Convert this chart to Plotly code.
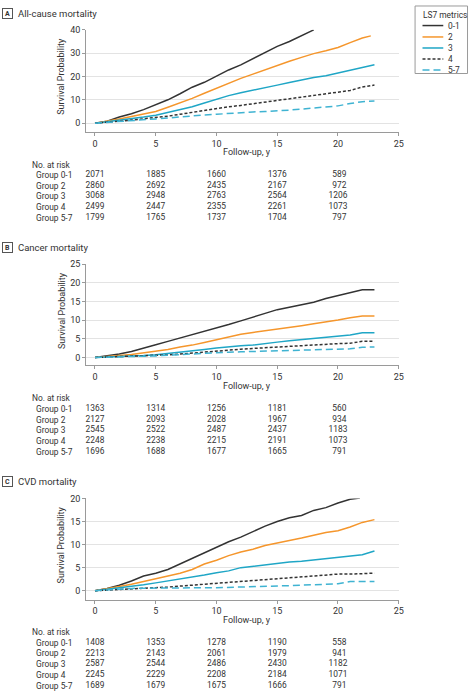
import plotly.graph_objects as go

W, H = 474, 692
FONT = "Roboto, Liberation Sans, sans-serif"
TXT = "#333333"

GROUPS = ["0-1", "2", "3", "4", "5-7"]
COLORS = ["#333333", "#f5962c", "#1fa6c6", "#333333", "#3fb3d2"]
DASHES = ["solid", "solid", "solid", "3px,2px", "7px,4px"]

YRS23 = list(range(0, 24))

# Panel A: all-cause mortality (cumulative %)
A_T = [list(range(0, 19)), list(range(0, 23)) + [22.7], YRS23, YRS23, YRS23]
A_V = [
    [0, 0.8, 2.6, 4.0, 5.8, 7.8, 10.0, 12.6, 15.4, 17.5, 20.1, 22.8, 25.0, 27.6, 30.5, 32.9, 35.0, 37.5, 40.0],
    [0, 0.8, 1.8, 2.8, 3.9, 5.0, 6.8, 8.6, 10.6, 12.8, 15.0, 17.0, 19.2, 21.0, 22.9, 24.8, 26.5, 28.2, 29.8, 31.0, 32.4, 34.5, 36.5, 37.4],
    [0, 0.6, 1.2, 1.9, 2.6, 3.4, 4.5, 5.8, 7.0, 8.6, 10.2, 11.8, 13.0, 14.2, 15.2, 16.3, 17.4, 18.6, 19.6, 20.3, 21.5, 22.5, 24.0, 25.0],
    [0, 0.3, 0.8, 1.3, 1.8, 2.3, 3.0, 3.8, 4.6, 5.6, 6.3, 7.0, 7.6, 8.3, 9.0, 9.8, 10.5, 11.2, 11.8, 12.5, 13.3, 14.0, 15.5, 16.3],
    [0, 0.3, 0.7, 1.0, 1.4, 1.8, 2.2, 2.7, 3.1, 3.5, 3.8, 4.2, 4.5, 4.8, 5.0, 5.2, 5.6, 6.0, 6.4, 6.8, 7.4, 8.4, 9.2, 9.5],
]

# Panel B: cancer mortality
B_T = [YRS23, YRS23, YRS23, YRS23, YRS23]
B_V = [
    [0, 0.4, 0.9, 1.6, 2.6, 3.4, 4.3, 5.2, 6.1, 6.8, 7.8, 8.8, 9.8, 10.9, 11.8, 12.8, 13.4, 14.1, 14.8, 15.8, 16.5, 17.3, 18.1, 18.1],
    [0, 0.2, 0.5, 0.8, 1.2, 1.6, 2.1, 2.8, 3.3, 4.0, 4.8, 5.4, 6.2, 6.7, 7.1, 7.6, 8.1, 8.5, 9.0, 9.4, 10.0, 10.6, 11.1, 11.1],
    [0, 0.1, 0.2, 0.3, 0.5, 0.7, 1.0, 1.4, 1.7, 2.1, 2.5, 2.9, 3.1, 3.3, 3.6, 4.1, 4.5, 4.8, 5.3, 5.6, 5.7, 6.0, 6.6, 6.6],
    [0, 0.1, 0.2, 0.3, 0.4, 0.5, 0.7, 0.9, 1.2, 1.5, 1.8, 2.0, 2.2, 2.4, 2.6, 2.8, 3.0, 3.3, 3.5, 3.6, 3.7, 3.8, 4.3, 4.3],
    [0, 0.05, 0.1, 0.2, 0.3, 0.4, 0.6, 0.8, 0.9, 1.1, 1.3, 1.4, 1.5, 1.6, 1.7, 1.8, 1.9, 2.0, 2.1, 2.1, 2.2, 2.3, 2.7, 2.8],
]

# Panel C: CVD mortality
C_T = [list(range(0, 22)) + [21.8], YRS23, YRS23, YRS23, YRS23]
C_V = [
    [0, 0.5, 1.2, 2.1, 3.2, 3.8, 4.6, 5.8, 7.0, 8.1, 9.3, 10.6, 11.6, 12.8, 14.0, 15.0, 15.8, 16.3, 17.4, 18.0, 19.0, 19.8, 20.1],
    [0, 0.4, 0.9, 1.4, 2.0, 2.7, 3.3, 3.8, 4.6, 5.8, 6.6, 7.6, 8.4, 9.0, 9.8, 10.3, 10.8, 11.4, 12.0, 12.6, 13.0, 13.8, 14.8, 15.4],
    [0, 0.3, 0.6, 0.9, 1.3, 1.7, 2.1, 2.6, 3.0, 3.4, 3.9, 4.3, 5.0, 5.3, 5.7, 5.9, 6.2, 6.4, 6.7, 6.9, 7.2, 7.5, 7.8, 8.6],
    [0, 0.1, 0.3, 0.4, 0.5, 0.65, 0.8, 1.0, 1.2, 1.4, 1.7, 1.9, 2.1, 2.2, 2.4, 2.6, 2.8, 3.0, 3.3, 3.5, 3.6, 3.6, 3.7, 3.8],
    [0, 0.2, 0.4, 0.5, 0.55, 0.6, 0.6, 0.6, 0.6, 0.65, 0.65, 0.7, 0.9, 0.95, 1.0, 1.0, 1.1, 1.2, 1.3, 1.3, 1.5, 2.0, 2.0, 2.0],
]

RISK_TIMES = [0, 5, 10, 15, 20]
RISK_A = [[2071, 1885, 1660, 1376, 589], [2860, 2692, 2435, 2167, 972], [3068, 2948, 2763, 2564, 1206],
          [2499, 2447, 2355, 2261, 1073], [1799, 1765, 1737, 1704, 797]]
RISK_B = [[1363, 1314, 1256, 1181, 560], [2127, 2093, 2028, 1967, 934], [2545, 2522, 2487, 2437, 1183],
          [2248, 2238, 2215, 2191, 1073], [1696, 1688, 1677, 1665, 791]]
RISK_C = [[1408, 1353, 1278, 1190, 558], [2213, 2143, 2061, 1979, 941], [2587, 2544, 2486, 2430, 1182],
          [2245, 2229, 2208, 2184, 1071], [1689, 1679, 1675, 1666, 791]]

PANELS = [
    dict(letter="A", title="All-cause mortality", T=A_T, V=A_V, risk=RISK_A, top=25, bot=128,
         yr=[-3.83, 40], dt=10, title_y=8.5, ytitle_y=72, xtitle_y=148, risk_y=161, row0=171.3, rs=10.7),
    dict(letter="B", title="Cancer mortality", T=B_T, V=B_V, risk=RISK_B, top=261, bot=363,
         yr=[-2.13, 25], dt=5, title_y=244, ytitle_y=308, xtitle_y=384, risk_y=396, row0=406.8, rs=10.8),
    dict(letter="C", title="CVD mortality", T=C_T, V=C_V, risk=RISK_C, top=497, bot=599,
         yr=[-1.94, 20], dt=5, title_y=479.5, ytitle_y=544, xtitle_y=619, risk_y=632, row0=642.3, rs=10.85),
]

FS_TICK = 9
FS_TAB = 8.4
FS_TITLE = 9.5

X_LEFT_PX, X_RIGHT_PX = 87, 403
X_RANGE = [-0.733, 25]
PX_PER_YEAR = (X_RIGHT_PX - X_LEFT_PX) / (X_RANGE[1] - X_RANGE[0])


def xp(px):
    return px / W


def yp(py):
    return 1 - py / H


fig = go.Figure()
annotations = []
shapes = []
layout = {}
XDOM = [xp(X_LEFT_PX), xp(X_RIGHT_PX)]

for i, p in enumerate(PANELS):
    n = "" if i == 0 else str(i + 1)
    xa, ya = "x" + n, "y" + n
    ta = "y" + str(i + 4)  # hidden axis for the number-at-risk rows
    for g in range(5):
        fig.add_trace(go.Scatter(
            x=p["T"][g], y=p["V"][g], mode="lines", xaxis=xa, yaxis=ya,
            line=dict(color=COLORS[g], width=1.5, dash=DASHES[g]),
            name=GROUPS[g], showlegend=False, hoverinfo="skip"))
    layout["xaxis" + n] = dict(
        domain=XDOM, range=X_RANGE, anchor=ya, tickvals=[0, 5, 10, 15, 20, 25],
        showline=True, linecolor="#9a9a9a", linewidth=1, ticks="outside", ticklen=3,
        tickcolor="#9a9a9a", showgrid=False, zeroline=False,
        tickfont=dict(size=FS_TICK, color=TXT, family=FONT))
    layout["yaxis" + n] = dict(
        domain=[yp(p["bot"]), yp(p["top"])], range=p["yr"], anchor=xa, dtick=p["dt"], tick0=0,
        showline=True, linecolor="#9a9a9a", linewidth=1, ticks="outside", ticklen=3,
        tickcolor="#9a9a9a", showgrid=True, gridcolor="#e3e3e3", gridwidth=1, zeroline=False,
        tickfont=dict(size=FS_TICK, color=TXT, family=FONT))
    # table axis: row g at pixel row0 + g*rs
    top_px = p["row0"] - p["rs"] / 2
    bot_px = p["row0"] + 4.5 * p["rs"]
    layout["yaxis" + str(i + 4)] = dict(
        domain=[yp(bot_px), yp(top_px)], range=[4.5, -0.5], anchor=xa, visible=False,
        showgrid=False, zeroline=False)

    # number at risk values as text traces on the follow-up axis
    for k, t in enumerate(RISK_TIMES):
        col = [p["risk"][g][k] for g in range(5)]
        big = [g for g in range(5) if col[g] >= 1000]
        small = [g for g in range(5) if col[g] < 1000]
        if big:
            fig.add_trace(go.Scatter(
                x=[t] * len(big), y=big, text=[str(col[g]) for g in big], mode="text",
                textposition="middle center", xaxis=xa, yaxis=ta, cliponaxis=False,
                textfont=dict(size=FS_TAB, color=TXT, family=FONT), showlegend=False,
                hoverinfo="skip"))
        if small:
            fig.add_trace(go.Scatter(
                x=[t + 8.5 / PX_PER_YEAR] * len(small), y=small, text=[str(col[g]) for g in small],
                mode="text", textposition="middle left", xaxis=xa, yaxis=ta, cliponaxis=False,
                textfont=dict(size=FS_TAB, color=TXT, family=FONT), showlegend=False,
                hoverinfo="skip"))

    # panel letter box and title
    annotations.append(dict(x=xp(8), y=yp(p["title_y"]), xref="paper", yref="paper",
                            text="<b>" + p["letter"] + "</b>", showarrow=False,
                            font=dict(size=7, color=TXT, family=FONT),
                            bordercolor="#555555", borderwidth=1, borderpad=0,
                            xanchor="center", yanchor="middle", width=9, height=9))
    annotations.append(dict(x=xp(16), y=yp(p["title_y"]), xref="paper", yref="paper",
                            text=p["title"], showarrow=False, xanchor="left", yanchor="middle",
                            font=dict(size=FS_TITLE, color=TXT, family=FONT)))
    # axis titles
    annotations.append(dict(x=xp(62), y=yp(p["ytitle_y"]), xref="paper", yref="paper",
                            text="Survival Probability", showarrow=False, textangle=-90,
                            xanchor="center", yanchor="middle",
                            font=dict(size=FS_TICK, color=TXT, family=FONT)))
    annotations.append(dict(x=12.5, y=yp(p["xtitle_y"]), xref=xa, yref="paper",
                            text="Follow-up, y", showarrow=False, xanchor="center", yanchor="middle",
                            font=dict(size=FS_TICK, color=TXT, family=FONT)))
    # number at risk labels
    annotations.append(dict(x=xp(30), y=yp(p["risk_y"]), xref="paper", yref="paper",
                            text="No. at risk", showarrow=False, xanchor="left", yanchor="middle",
                            font=dict(size=FS_TAB, color=TXT, family=FONT)))
    for g in range(5):
        ry = yp(p["row0"] + g * p["rs"])
        annotations.append(dict(x=xp(34), y=ry, xref="paper", yref="paper",
                                text="Group " + GROUPS[g], showarrow=False, xanchor="left",
                                yanchor="middle", font=dict(size=FS_TAB, color=TXT, family=FONT)))

# manual legend
shapes.append(dict(type="rect", xref="paper", yref="paper", x0=xp(419.5), x1=xp(472.5),
                   y0=yp(69), y1=yp(1), line=dict(color="#9a9a9a", width=1), fillcolor="white"))
annotations.append(dict(x=xp(425), y=yp(10), xref="paper", yref="paper", text="LS7 metrics",
                        showarrow=False, xanchor="left", yanchor="middle",
                        font=dict(size=FS_TAB, color=TXT, family=FONT)))
LEG_Y = [20.7, 32.2, 43.3, 54.3, 65.5]
for g in range(5):
    shapes.append(dict(type="line", xref="paper", yref="paper", x0=xp(427), x1=xp(448),
                       y0=yp(LEG_Y[g]), y1=yp(LEG_Y[g]),
                       line=dict(color=COLORS[g], width=1.5, dash=DASHES[g])))
    annotations.append(dict(x=xp(451), y=yp(LEG_Y[g]), xref="paper", yref="paper",
                            text=GROUPS[g], showarrow=False, xanchor="left", yanchor="middle",
                            font=dict(size=FS_TAB, color=TXT, family=FONT)))

fig.update_layout(
    width=W, height=H, margin=dict(l=0, r=0, t=0, b=0),
    paper_bgcolor="white", plot_bgcolor="white", showlegend=False,
    font=dict(family=FONT, color=TXT, size=FS_TICK),
    annotations=annotations, shapes=shapes, **layout)

fig.write_html("out.html", config={"displayModeBar": False},
               post_script="document.body.style.margin='0';document.body.style.overflow='hidden';")
